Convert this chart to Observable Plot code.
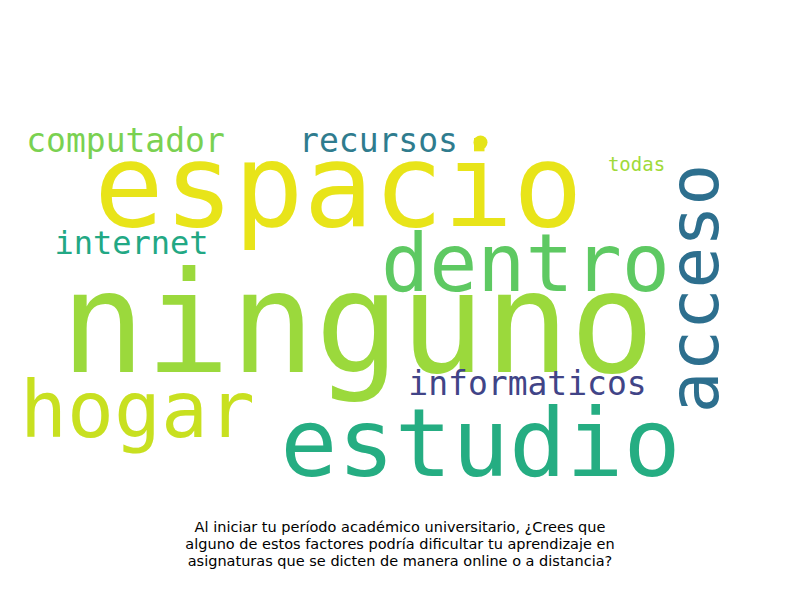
<!DOCTYPE html>
<html><head><meta charset="utf-8">
<script src="https://cdn.jsdelivr.net/npm/d3@7"></script>
<script src="https://cdn.jsdelivr.net/npm/@observablehq/plot@0.6"></script>
<style>
body{margin:0;background:#fff;}
#cap{width:800px;text-align:center;font-family:"DejaVu Sans",sans-serif;font-size:14.5px;line-height:17px;color:#000;padding-top:4px;}
</style></head><body>
<div id="chart"></div>
<div id="cap">Al iniciar tu período académico universitario, ¿Crees que<br>alguno de estos factores podría dificultar tu aprendizaje en<br>asignaturas que se dicten de manera online o a distancia?</div>
<script>
const words  = ["ninguno","espacio","estudio","dentro","hogar","acceso","computador","recursos","internet","informaticos","todas"];
const xs     = [357, 338, 480, 525, 137, 695, 125, 378, 131, 527, 636];
const ys     = [326, 188, 445, 265, 412, 288, 141, 141, 243, 384, 164];
const sizes  = [141, 116, 95, 80, 78, 69, 33, 33, 32, 33, 19];
const rots   = [0, 0, 0, 0, 0, -90, 0, 0, 0, 0, 0];
const colors = ["#9bd93c","#e8e419","#25ad82","#5ec962","#c8e020","#2d6f8e","#7ad151","#2f7c8e","#22a884","#414487","#a0da39"];
const dotX = [480], dotY = [142], dotColor = "#e5e419";

const data = words.map((w,i)=>({w,x:xs[i],y:ys[i],s:sizes[i],r:rots[i],c:colors[i]}));
const marks = data.map(d => Plot.text([d], {x:"x", y:"y", text:"w", fontSize:d.s, rotate:d.r, fill:d.c,
  textAnchor:"middle", lineAnchor:"middle", fontFamily:"DejaVu Sans Mono"}));
marks.push(Plot.dot(dotX.map((x,i)=>({x,y:dotY[i]})), {x:"x", y:"y", r:7, fill:dotColor}));
const chart = Plot.plot({
  width:800, height:515, margin:0,
  x:{domain:[0,800], axis:null},
  y:{domain:[0,515], range:[0,515], axis:null},
  marks
});
document.getElementById("chart").appendChild(chart);
</script>
</body></html>
